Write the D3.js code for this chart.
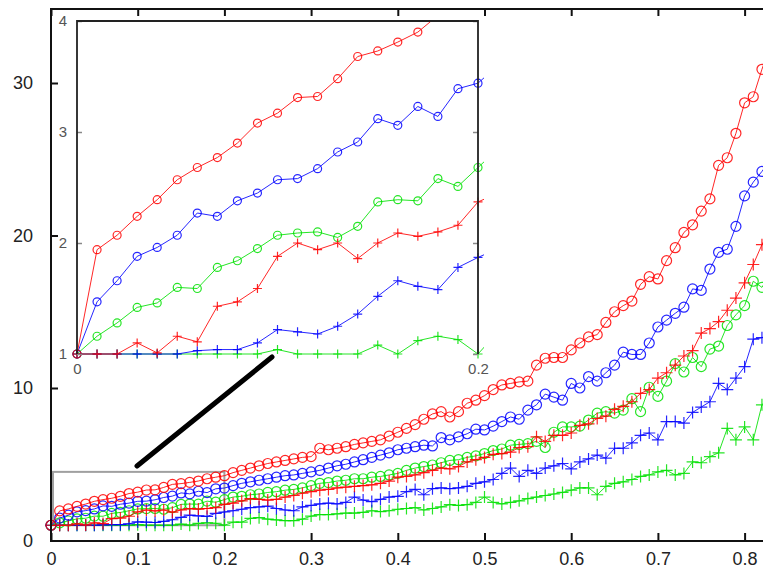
<!DOCTYPE html>
<html><head><meta charset="utf-8">
<script src="https://cdn.jsdelivr.net/npm/d3@7"></script>
<style>body{margin:0;background:#fff}svg{display:block}text{font-family:"Liberation Sans",Arial,sans-serif}</style>
</head><body><svg id="c" width="763" height="572"></svg>
<script>
// ---- data (x grid step 0.01, index i -> x = i*0.01) ----
const xStep = 0.01;
const redCircle = [1.0,1.94,2.07,2.24,2.39,2.57,2.68,2.77,2.90,3.08,3.17,3.31,3.32,3.48,3.68,3.73,3.81,3.90,4.05,4.15,4.25,
 4.45,4.6,4.75,4.9,5.05,5.15,5.25,5.35,5.45,5.5,
 6.05,5.95,6.05,6.15,6.3,6.4,6.5,6.6,6.85,7.1,
 7.35,7.6,7.95,8.3,8.45,8.1,8.45,9.0,9.2,9.5,
 9.9,10.2,10.3,10.4,10.45,11.5,11.95,12.0,12.0,12.5,
 12.95,13.35,13.5,14.3,15.0,15.4,15.7,16.8,17.3,17.15,
 18.35,19.2,20.2,20.7,21.6,22.4,24.6,25.1,26.7,28.7,
 29.1,30.9,32.5];
const blueCircle = [1.0,1.47,1.66,1.88,1.96,2.07,2.27,2.24,2.38,2.45,2.57,2.58,2.67,2.82,2.91,3.12,3.06,3.23,3.14,3.39,3.44,
 3.6,3.75,3.85,3.95,4.05,4.15,4.25,4.3,4.4,4.5,
 4.6,4.75,4.9,5.0,5.15,5.3,5.45,5.6,5.75,5.95,
 6.05,6.15,6.25,6.2,6.75,6.6,6.8,7.0,7.3,7.25,
 7.5,7.8,8.1,7.95,8.55,8.9,9.6,9.4,9.2,10.3,
 10.0,10.75,10.45,11.0,11.5,12.35,12.2,12.2,12.95,14.0,
 14.45,14.9,15.3,16.5,16.4,17.8,18.9,19.1,20.6,22.6,
 23.5,24.2,25.0];
const greenCircle = [1.0,1.16,1.28,1.42,1.46,1.60,1.59,1.78,1.84,1.95,2.07,2.09,2.10,2.05,2.15,2.37,2.39,2.38,2.58,2.51,2.68,
 2.85,2.9,3.0,3.05,3.15,3.2,3.3,3.35,3.45,3.6,
 3.75,3.8,3.9,3.95,4.05,4.05,4.15,4.2,4.3,4.4,
 4.6,4.75,4.85,4.95,5.1,5.25,5.3,5.45,5.55,5.7,
 5.9,6.0,6.25,6.3,6.35,6.5,6.1,7.1,7.45,7.45,
 7.5,7.9,8.35,8.45,8.35,8.55,9.3,8.45,10.05,9.45,
 10.45,11.6,11.05,12.0,11.4,12.55,12.75,14.1,14.8,15.4,
 17.0,16.6,17.5];
const redPlus = [1.0,1.0,1.0,1.10,1.01,1.16,1.11,1.43,1.47,1.59,1.88,2.00,1.94,2.00,1.86,2.00,2.09,2.06,2.10,2.16,2.37,
 2.45,2.6,2.75,2.7,2.65,2.7,2.85,2.95,3.1,3.2,
 3.3,3.35,3.45,3.5,3.55,3.6,3.65,3.75,3.9,4.15,
 4.2,4.3,4.45,4.6,4.75,4.7,4.85,5.15,5.3,5.45,
 5.65,5.7,5.8,6.1,6.15,6.8,6.5,6.9,6.9,7.05,
 7.55,7.65,8.0,8.15,8.6,8.8,9.1,9.65,9.9,10.65,
 11.0,11.5,12.1,12.45,13.6,13.9,14.35,15.1,15.9,16.9,
 18.1,19.4,20.5];
const bluePlus = [1.0,1.0,1.0,1.0,1.0,1.0,1.03,1.04,1.04,1.10,1.22,1.20,1.18,1.25,1.36,1.52,1.66,1.61,1.58,1.78,1.87,
 1.95,2.05,2.15,2.2,2.25,2.1,2.0,1.95,2.2,2.3,
 2.4,2.45,2.4,2.5,2.85,2.65,2.55,2.7,2.85,2.9,
 3.2,3.35,3.0,3.4,3.45,3.4,3.45,3.55,3.75,3.85,
 4.0,4.4,4.75,4.2,4.6,4.4,4.75,4.9,5.05,4.7,
 5.15,5.35,5.6,5.4,6.05,6.05,6.4,6.9,7.05,6.6,
 7.8,7.8,7.7,8.4,8.75,9.1,10.3,9.9,10.65,11.4,
 13.2,13.3,13.6];
const greenPlus = [1,1,1,1,1,1,1,1,1,1,1.04,1,1,1,1,1.08,1,1.12,1.16,1.13,1.0,
 1.2,1.2,1.45,1.5,1.4,1.35,1.3,1.3,1.4,1.6,
 1.7,1.7,1.75,1.8,1.8,1.85,1.95,1.9,1.95,2.05,
 2.1,2.15,2.0,2.1,2.2,2.35,2.3,2.35,2.5,2.85,
 2.5,2.4,2.5,2.6,2.75,2.85,2.95,3.05,3.15,3.3,
 3.45,3.45,3.0,3.55,3.75,3.85,4.0,4.2,4.3,4.5,
 4.6,4.3,4.4,5.15,5.1,5.5,5.75,7.35,6.6,7.45,
 6.6,8.9,9.5];

const mainXTicks = [0,0.1,0.2,0.3,0.4,0.5,0.6,0.7,0.8];
const mainYTicks = [0,10,20,30];
const insetXTicks = [0,0.2];
const insetYTicks = [1,2,3,4];
const zoomBox = {x0:0, x1:0.2, y0:1, y1:4.5};

const series = [
  {name:"greenPlus", vals:greenPlus, color:"#00e000", marker:"plus"},
  {name:"bluePlus", vals:bluePlus, color:"#0000ff", marker:"plus"},
  {name:"greenCircle", vals:greenCircle, color:"#00e000", marker:"circle"},
  {name:"redPlus", vals:redPlus, color:"#ff0000", marker:"plus"},
  {name:"blueCircle", vals:blueCircle, color:"#0000ff", marker:"circle"},
  {name:"redCircle", vals:redCircle, color:"#ff0000", marker:"circle"}
];
const toPts = v => v.map((y,i)=>({x:i*xStep, y}));

const svg = d3.select("#c");

// ---- main scales ----
const x = d3.scaleLinear().domain([0,0.8]).range([51,744.6]);
const y = d3.scaleLinear().domain([0,30]).range([540.5,83]);
const yTop = 9, yBot = 541;

// zoom rectangle
svg.append("rect")
  .attr("x", x(zoomBox.x0)+2).attr("y", y(zoomBox.y1))
  .attr("width", x(zoomBox.x1)-x(zoomBox.x0)-2).attr("height", y(zoomBox.y0)-y(zoomBox.y1))
  .attr("fill","none").attr("stroke","#a0a0a0").attr("stroke-width",2);

function drawSeries(g, xs, ys, r, p, sw){
  series.forEach(s=>{
    const pts = toPts(s.vals);
    g.append("path").datum(pts)
      .attr("d", d3.line().x(d=>xs(d.x)).y(d=>ys(d.y)))
      .attr("fill","none").attr("stroke",s.color).attr("stroke-width",sw).attr("stroke-opacity",0.85);
    const m = g.append("g").attr("stroke",s.color).attr("fill","none").attr("stroke-width",1.2).attr("stroke-opacity",0.85);
    if(s.marker==="circle"){
      m.selectAll("circle").data(pts).join("circle")
        .attr("cx",d=>xs(d.x)).attr("cy",d=>ys(d.y)).attr("r",r);
    } else {
      m.selectAll("path").data(pts).join("path")
        .attr("d",d=>{const cx=xs(d.x), cy=ys(d.y);
          return `M${cx-p},${cy}H${cx+p}M${cx},${cy-p}V${cy+p}`;});
    }
  });
}

const mainG = svg.append("g");
drawSeries(mainG, x, y, 5, 6, 1);

// pointer line
svg.append("line")
  .attr("x1",137).attr("y1",466).attr("x2",272).attr("y2",357)
  .attr("stroke","#000").attr("stroke-width",5).attr("stroke-linecap","round");

// main frame
const frame = svg.append("g").attr("stroke","#111").attr("stroke-width",2).attr("fill","none");
frame.append("line").attr("x1",51).attr("x2",51).attr("y1",yTop).attr("y2",yBot);
frame.append("line").attr("x1",50).attr("x2",763).attr("y1",yBot).attr("y2",yBot);
frame.append("line").attr("x1",50).attr("x2",763).attr("y1",yTop).attr("y2",yTop);

const fmt = d => d===0 ? "0" : d3.format(".1f")(d);
const axB = svg.append("g").attr("transform",`translate(0,${yBot})`)
  .call(d3.axisBottom(x).tickValues(mainXTicks).tickFormat(fmt).tickSize(-8).tickPadding(11));
const axT = svg.append("g").attr("transform",`translate(0,${yTop})`)
  .call(d3.axisTop(x).tickValues(mainXTicks).tickFormat("").tickSize(-7));
const axL = svg.append("g").attr("transform",`translate(51,0)`)
  .call(d3.axisLeft(y).tickValues(mainYTicks).tickSize(-7).tickPadding(18));
[axB,axT,axL].forEach(a=>{
  a.select(".domain").remove();
  a.selectAll(".tick line").attr("stroke","#111").attr("stroke-width",2);
  a.selectAll("text").attr("font-size",18).attr("fill","#222").attr("font-family","Liberation Sans, Arial, sans-serif");
});

// ---- inset ----
const ix = d3.scaleLinear().domain([0,0.2]).range([77,478]);
const iy = d3.scaleLinear().domain([1,4]).range([354,21]);
const inset = svg.append("g");
inset.append("rect").attr("x",77).attr("y",21).attr("width",401).attr("height",333).attr("fill","#fff");
svg.append("defs").append("clipPath").attr("id","ic").append("rect")
  .attr("x",72).attr("y",21).attr("width",412).attr("height",340);
const insetData = inset.append("g").attr("clip-path","url(#ic)");
const insetSeries = series.map(s=>({...s}));
drawSeries(insetData, ix, iy, 4, 4.5, 1);

const ayL = inset.append("g").attr("transform","translate(77,0)")
  .call(d3.axisLeft(iy).tickValues(insetYTicks).tickFormat(d3.format("d")).tickSize(-5).tickPadding(10));
const ayR = inset.append("g").attr("transform","translate(478,0)")
  .call(d3.axisRight(iy).tickValues(insetYTicks).tickFormat("").tickSize(-5));
const axI = inset.append("g").attr("transform","translate(0,354)")
  .call(d3.axisBottom(ix).tickValues(insetXTicks).tickFormat(d=>d===0?"0":d3.format(".1f")(d)).tickSize(0).tickPadding(9));
[ayL,ayR,axI].forEach(a=>{
  a.select(".domain").remove();
  a.selectAll(".tick line").attr("stroke","#888").attr("stroke-width",1.5);
  a.selectAll("text").attr("font-size",15).attr("fill","#555").attr("font-family","Liberation Sans, Arial, sans-serif");
});
inset.append("path")
  .attr("d","M77,354V21H478V354")
  .attr("fill","none").attr("stroke","#222").attr("stroke-width",1.8);
</script></body></html>
